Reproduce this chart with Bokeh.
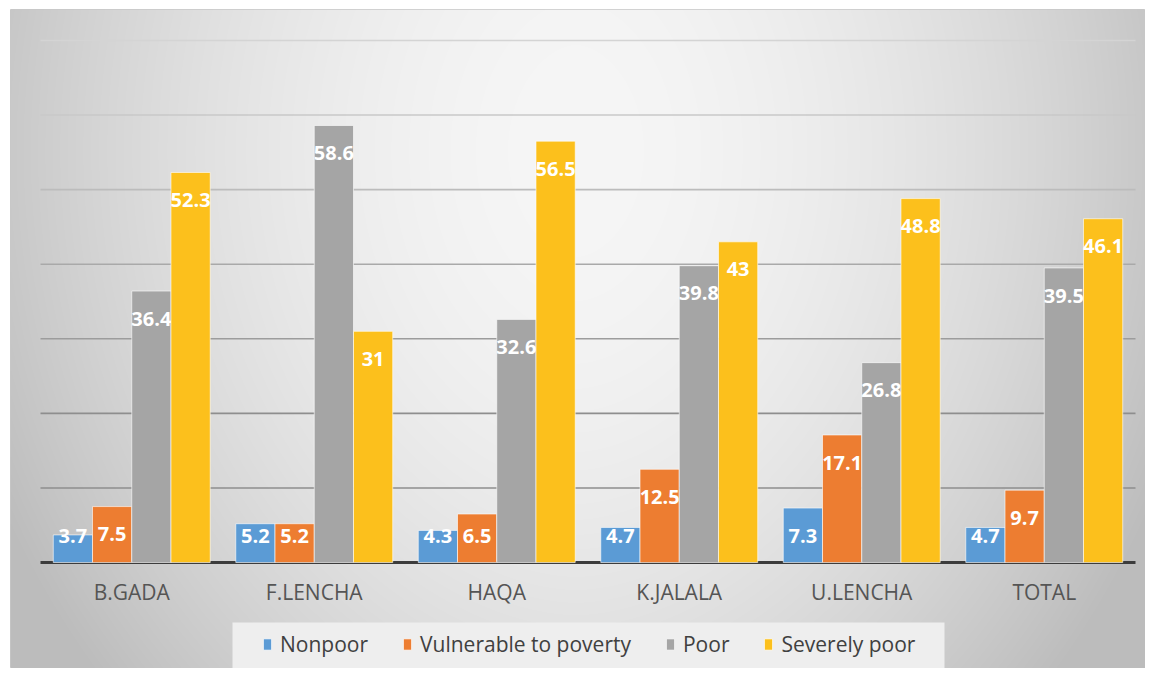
import numpy as np
from bokeh.plotting import figure
from bokeh.models import Range1d, Legend, LegendItem, BoxAnnotation
from bokeh.core.properties import value
from bokeh.embed import file_html
from bokeh.resources import INLINE

# ---------------- data ----------------
categories = ["B.GADA", "F.LENCHA", "HAQA", "K.JALALA", "U.LENCHA", "TOTAL"]
series_names = ["Nonpoor", "Vulnerable to poverty", "Poor", "Severely poor"]
nonpoor = [3.7, 5.2, 4.3, 4.7, 7.3, 4.7]
vulnerable = [7.5, 5.2, 6.5, 12.5, 17.1, 9.7]
poor = [36.4, 58.6, 32.6, 39.8, 26.8, 39.5]
severely_poor = [52.3, 31, 56.5, 43, 48.8, 46.1]
grid_ticks = [10, 20, 30, 40, 50, 60, 70]

# ---------------- styling / layout ----------------
colors = ["#5b9bd5", "#ed7d31", "#a5a5a5", "#fcc01c"]
grid_colors = ["#8e8e8e", "#8e8e8e", "#9c9c9c", "#a9a9a9", "#bcbcbc", "#c8c8c8", "#d4d4d4"]
FIG_W, FIG_H = 1135, 659
PLOT_L, PLOT_R = 30, 1125
PLOT_T, BASE = 31, 553
Y_MAX = 70
BAR_W = 0.215
LEG_L, LEG_R, LEG_TOP = 222, 934, 613   # legend box in figure pixels

n = len(categories)
ppu = (BASE - PLOT_T) / Y_MAX
grp_px = (PLOT_R - PLOT_L) / n
x0 = -PLOT_L / grp_px
x1 = n + (FIG_W - PLOT_R) / grp_px
y0 = -(FIG_H - BASE) / ppu
y1 = Y_MAX + PLOT_T / ppu

p = figure(width=FIG_W, height=FIG_H, output_backend="svg", toolbar_location=None,
           x_range=Range1d(x0, x1), y_range=Range1d(y0, y1),
           x_axis_location=None, y_axis_location=None,
           min_border=0, min_border_left=0, min_border_right=0,
           min_border_top=0, min_border_bottom=0,
           margin=(9, 6, 9, 10))
p.grid.visible = False
p.outline_line_color = "#c8c8c8"
p.background_fill_color = "#e4e4e4"
p.border_fill_color = "#e4e4e4"

# background gradient (decoration)
py, px = np.mgrid[0:FIG_H, 0:FIG_W].astype(float)
py = FIG_H - 1 - py  # row 0 at bottom
cx, cy = 565.0, 141.0
g = 246 - 44 * np.abs((px - cx) / 560.0) ** 1.8 - 22 * ((py - cy) / 500.0) ** 2
g = np.clip(g, 188, 250).astype(np.uint32)
img = (np.uint32(255) << 24) | (g << 16) | (g << 8) | g
p.image_rgba(image=[img], x=x0, y=y0, dw=x1 - x0, dh=y1 - y0)

# gridlines and baseline
p.segment(x0=[0] * len(grid_ticks), x1=[n] * len(grid_ticks), y0=grid_ticks, y1=grid_ticks,
          line_color=grid_colors, line_width=1.6)
p.segment(x0=[0], x1=[n], y0=[0], y1=[0], line_color="#3c3c3c", line_width=3)

# bars
items = []
all_series = [nonpoor, vulnerable, poor, severely_poor]
centers = np.arange(n) + 0.5
for j, (name, vals, col) in enumerate(zip(series_names, all_series, colors)):
    xs = centers + (j - 1.5) * BAR_W
    r = p.vbar(x=xs, top=vals, bottom=0, width=BAR_W, fill_color=col,
               line_color="white", line_alpha=0.6, line_width=1)
    items.append(LegendItem(label=name, renderers=[r]))
    ly = [max(v - 3.7, 3.5) for v in vals]
    p.text(x=xs, y=ly, text=[f"{v:g}" for v in vals], text_align="center",
           text_baseline="middle", text_color="white", text_font=value("Open Sans"),
           text_font_style="bold", text_font_size="20px")

# category labels
p.text(x=centers, y=[-29 / ppu] * n, text=categories, text_align="center",
       text_baseline="middle", text_color="#555555", text_font=value("Open Sans"),
       text_font_size="21px")

# legend background panel (decoration)
box = BoxAnnotation(left=x0 + LEG_L / grp_px, right=x0 + LEG_R / grp_px,
                    bottom=y0, top=y1 - LEG_TOP / ppu,
                    fill_color="#eeeeee", fill_alpha=1, line_color=None)
p.add_layout(box)

legend = Legend(items=items, orientation="horizontal", location=(252, 10),
                background_fill_alpha=0, border_line_color=None,
                label_text_font="Open Sans",
                label_text_font_size="21px", label_text_color="#404040",
                glyph_width=10, glyph_height=14, label_standoff=8, spacing=34,
                padding=13, margin=0, label_height=20)
p.add_layout(legend)

open("out.html", "w").write(file_html(p, INLINE))
